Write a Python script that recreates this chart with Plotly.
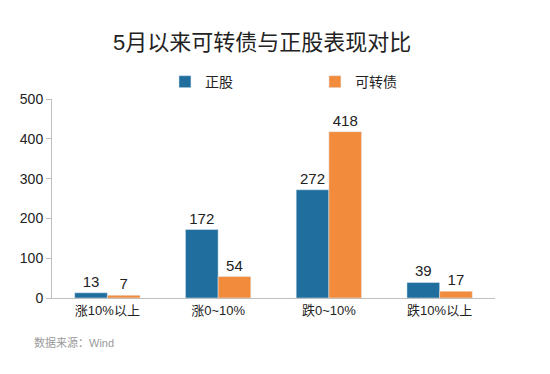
import plotly.graph_objects as go

categories = ["涨10%以上", "涨0~10%", "跌0~10%", "跌10%以上"]
stocks = [13, 172, 272, 39]
bonds = [7, 54, 418, 17]
yticks = [0, 100, 200, 300, 400, 500]

FONT = "Liberation Sans, Noto Sans CJK SC"

fig = go.Figure()
fig.add_trace(go.Bar(name="正股", x=categories, y=stocks, marker_color="#1F6E9E",
                     text=stocks, textposition="outside", cliponaxis=False,
                     textfont=dict(size=15, color="#222222")))
fig.add_trace(go.Bar(name="可转债", x=categories, y=bonds, marker_color="#F28C3C",
                     text=bonds, textposition="outside", cliponaxis=False,
                     textfont=dict(size=15, color="#222222")))

fig.update_layout(
    width=550, height=374,
    margin=dict(l=42, r=63, t=91, b=84),
    paper_bgcolor="white", plot_bgcolor="white",
    font=dict(family=FONT, color="#222222"),
    barmode="group", bargap=0.41, bargroupgap=0,
    title=dict(text="5月以来可转债与正股表现对比", x=0.462, xanchor="center",
               y=0.909, yanchor="middle", font=dict(size=22, color="#222222")),
    legend=dict(orientation="h", x=0.255, xanchor="left", y=1.085, yanchor="middle",
                entrywidth=105, entrywidthmode="pixels",
                font=dict(size=14, color="#222222"), itemwidth=30),
    showlegend=True,
)
fig.update_xaxes(showline=True, linecolor="#bfbfbf", linewidth=1, ticks="",
                 tickfont=dict(size=13, color="#222222"), showgrid=False)
fig.update_yaxes(range=[0, 500], tickvals=yticks, showline=True, linecolor="#bfbfbf",
                 linewidth=1, ticks="outside", ticklen=5, tickcolor="#bfbfbf",
                 tickfont=dict(size=14, color="#222222"), showgrid=False, zeroline=False)

fig.add_annotation(text="数据来源：Wind", xref="paper", yref="paper", x=-0.045, y=-0.226,
                   xanchor="left", yanchor="middle", showarrow=False,
                   font=dict(size=11, color="#9a9a9a"))

fig.write_html("out.html")
